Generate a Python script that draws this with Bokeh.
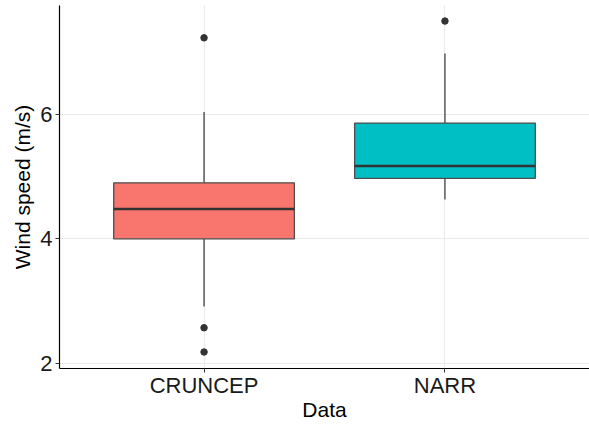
from bokeh.plotting import figure
from bokeh.models import Range1d, FixedTicker
from bokeh.embed import file_html
from bokeh.resources import INLINE

categories = ["CRUNCEP", "NARR"]
q1 = [4.00, 4.97]
median = [4.48, 5.17]
q3 = [4.90, 5.86]
whisker_low = [2.91, 4.63]
whisker_high = [6.04, 6.98]
outlier_cat = ["CRUNCEP", "CRUNCEP", "CRUNCEP", "NARR"]
outlier_val = [7.23, 2.57, 2.18, 7.50]
fill_colors = ["#F8766D", "#00BFC4"]
y_ticks = [2, 4, 6]

xs = [i + 1 for i in range(len(categories))]
ox = [categories.index(c) + 1 for c in outlier_cat]

p = figure(width=589, height=425, output_backend="svg", toolbar_location=None,
           x_range=Range1d(0.4, 2.6), y_range=Range1d(1.915, 7.75),
           min_border_left=59, min_border_right=0, min_border_top=5, min_border_bottom=57)
p.outline_line_color = None
p.background_fill_color = "white"
p.border_fill_color = "white"

# grid
p.xgrid.ticker = FixedTicker(ticks=xs)
p.ygrid.ticker = FixedTicker(ticks=y_ticks)
for g in (p.xgrid[0], p.ygrid[0]):
    g.grid_line_color = "#ebebeb"
    g.grid_line_width = 1.2

# whiskers
p.segment(x0=xs, x1=xs, y0=whisker_low, y1=q1, line_color="#333333", line_width=1.2)
p.segment(x0=xs, x1=xs, y0=q3, y1=whisker_high, line_color="#333333", line_width=1.2)
# boxes
p.vbar(x=xs, width=0.75, bottom=q1, top=q3, fill_color=fill_colors,
       line_color="#4d4d4d", line_width=1.3)
# medians
p.segment(x0=[x - 0.375 for x in xs], x1=[x + 0.375 for x in xs], y0=median, y1=median,
          line_color="#333333", line_width=2.6)
# outliers
p.scatter(x=ox, y=outlier_val, size=6.5, fill_color="#333333", line_color="#333333")

font = "Liberation Sans"
for ax in (p.xaxis[0], p.yaxis[0]):
    ax.axis_line_color = "black"
    ax.axis_line_width = 1.2
    ax.major_tick_line_color = "#333333"
    ax.major_tick_line_width = 1
    ax.major_tick_out = 4
    ax.major_tick_in = 0
    ax.minor_tick_line_color = None
    ax.major_label_text_font = font
    ax.major_label_text_font_size = "22px"
    ax.major_label_text_color = "#1a1a1a"
    ax.axis_label_text_font = font
    ax.axis_label_text_font_size = "21px"
    ax.axis_label_text_font_style = "normal"
    ax.axis_label_text_color = "black"

p.xaxis.ticker = FixedTicker(ticks=xs)
p.xaxis.major_label_overrides = {x: c for x, c in zip(xs, categories)}
p.xaxis.axis_label = "Data"
p.xaxis.major_label_standoff = 0
p.xaxis.axis_label_standoff = -3

p.yaxis.ticker = FixedTicker(ticks=y_ticks)
p.yaxis.axis_label = "Wind speed (m/s)"
p.yaxis.major_label_standoff = 3
p.yaxis.axis_label_standoff = 3

open("out.html", "w").write(file_html(p, INLINE))
